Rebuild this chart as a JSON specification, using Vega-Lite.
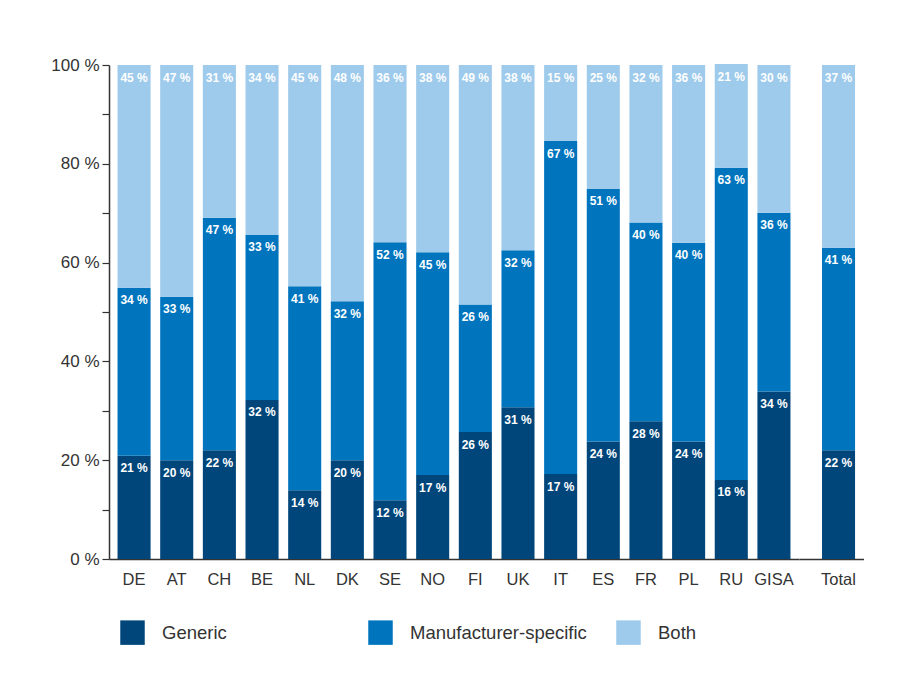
{
  "$schema": "https://vega.github.io/schema/vega-lite/v6.json",
  "padding": {"left": 50, "top": 56, "right": 0, "bottom": 0},
  "autosize": {"type": "pad"},
  "background": "white",
  "datasets": {
    "shares": [
      {"country": "DE", "type": "Generic", "value": 20.9},
      {"country": "DE", "type": "Manufacturer-specific", "value": 34.0},
      {"country": "DE", "type": "Both", "value": 45.1},
      {"country": "AT", "type": "Generic", "value": 20.0},
      {"country": "AT", "type": "Manufacturer-specific", "value": 33.1},
      {"country": "AT", "type": "Both", "value": 46.9},
      {"country": "CH", "type": "Generic", "value": 22.0},
      {"country": "CH", "type": "Manufacturer-specific", "value": 47.1},
      {"country": "CH", "type": "Both", "value": 30.9},
      {"country": "BE", "type": "Generic", "value": 32.2},
      {"country": "BE", "type": "Manufacturer-specific", "value": 33.4},
      {"country": "BE", "type": "Both", "value": 34.4},
      {"country": "NL", "type": "Generic", "value": 13.9},
      {"country": "NL", "type": "Manufacturer-specific", "value": 41.3},
      {"country": "NL", "type": "Both", "value": 44.8},
      {"country": "DK", "type": "Generic", "value": 20.0},
      {"country": "DK", "type": "Manufacturer-specific", "value": 32.2},
      {"country": "DK", "type": "Both", "value": 47.8},
      {"country": "SE", "type": "Generic", "value": 11.9},
      {"country": "SE", "type": "Manufacturer-specific", "value": 52.2},
      {"country": "SE", "type": "Both", "value": 35.9},
      {"country": "NO", "type": "Generic", "value": 17.0},
      {"country": "NO", "type": "Manufacturer-specific", "value": 45.1},
      {"country": "NO", "type": "Both", "value": 37.9},
      {"country": "FI", "type": "Generic", "value": 25.7},
      {"country": "FI", "type": "Manufacturer-specific", "value": 25.8},
      {"country": "FI", "type": "Both", "value": 48.5},
      {"country": "UK", "type": "Generic", "value": 30.7},
      {"country": "UK", "type": "Manufacturer-specific", "value": 31.8},
      {"country": "UK", "type": "Both", "value": 37.5},
      {"country": "IT", "type": "Generic", "value": 17.2},
      {"country": "IT", "type": "Manufacturer-specific", "value": 67.4},
      {"country": "IT", "type": "Both", "value": 15.4},
      {"country": "ES", "type": "Generic", "value": 23.8},
      {"country": "ES", "type": "Manufacturer-specific", "value": 51.1},
      {"country": "ES", "type": "Both", "value": 25.1},
      {"country": "FR", "type": "Generic", "value": 27.9},
      {"country": "FR", "type": "Manufacturer-specific", "value": 40.2},
      {"country": "FR", "type": "Both", "value": 31.9},
      {"country": "PL", "type": "Generic", "value": 23.8},
      {"country": "PL", "type": "Manufacturer-specific", "value": 40.2},
      {"country": "PL", "type": "Both", "value": 36.0},
      {"country": "RU", "type": "Generic", "value": 16.0},
      {"country": "RU", "type": "Manufacturer-specific", "value": 63.2},
      {"country": "RU", "type": "Both", "value": 21.0},
      {"country": "GISA", "type": "Generic", "value": 33.9},
      {"country": "GISA", "type": "Manufacturer-specific", "value": 36.2},
      {"country": "GISA", "type": "Both", "value": 29.9},
      {"country": "Total", "type": "Generic", "value": 22.0},
      {"country": "Total", "type": "Manufacturer-specific", "value": 41.0},
      {"country": "Total", "type": "Both", "value": 37.0}
    ]
  },
  "spacing": 0,
  "hconcat": [
    {
      "width": 690,
      "height": 494,
      "data": {"name": "shares"},
      "transform": [
        {"filter": "datum.country !== 'Total'"},
        {"calculate": "indexof(['Generic','Manufacturer-specific','Both'], datum.type)", "as": "ord"},
        {"calculate": "format(datum.value, '.0f') + ' %'", "as": "label"},
        {"stack": "value", "groupby": ["country"], "sort": [{"field": "ord", "order": "ascending"}], "as": ["v0", "v1"]}
      ],
      "encoding": {
        "x": {
          "field": "country", "type": "nominal", "sort": null,
          "scale": {"paddingInner": 0.225, "paddingOuter": 0.2},
          "axis": {"title": null, "ticks": false, "labelAngle": 0, "labelPadding": 12, "labelFontSize": 16.5, "labelColor": "#333333", "domainColor": "#333333", "domainWidth": 1.5}
        }
      },
      "layer": [
        {
          "mark": {"type": "bar"},
          "encoding": {
            "y": {
              "field": "v0", "type": "quantitative",
              "scale": {"domain": [0, 100], "nice": false},
              "axis": {"title": null, "grid": false, "values": [0, 10, 20, 30, 40, 50, 60, 70, 80, 90, 100],
                       "labelExpr": "datum.value % 20 === 0 ? datum.value + ' %' : ''",
                       "tickSize": 7, "labelPadding": 3, "labelFontSize": 17, "labelColor": "#333333",
                       "domainColor": "#333333", "domainWidth": 1.5, "tickColor": "#333333", "tickWidth": 1.2}
            },
            "y2": {"field": "v1"},
            "color": {
              "field": "type", "type": "nominal",
              "scale": {"domain": ["Generic", "Manufacturer-specific", "Both"], "range": ["#00467a", "#0075be", "#9ecaeb"]},
              "legend": {"title": null, "orient": "none", "legendX": 11, "legendY": 555, "direction": "horizontal", "columns": 3,
                         "gridAlign": "all", "columnPadding": 29, "symbolType": "square", "symbolSize": 600, "symbolStrokeWidth": 0,
                         "labelOffset": 17, "labelFontSize": 18.5, "labelColor": "#333333", "padding": 0, "labelLimit": 400}
            }
          }
        },
        {
          "mark": {"type": "text", "baseline": "middle", "align": "center", "dy": 12.5, "fontSize": 12, "fontWeight": "bold", "color": "white"},
          "encoding": {
            "y": {"field": "v1", "type": "quantitative"},
            "text": {"field": "label"}
          }
        }
      ]
    },
    {
      "width": 65,
      "height": 494,
      "data": {"name": "shares"},
      "transform": [
        {"filter": "datum.country === 'Total'"},
        {"calculate": "indexof(['Generic','Manufacturer-specific','Both'], datum.type)", "as": "ord"},
        {"calculate": "format(datum.value, '.0f') + ' %'", "as": "label"},
        {"stack": "value", "groupby": ["country"], "sort": [{"field": "ord", "order": "ascending"}], "as": ["v0", "v1"]}
      ],
      "encoding": {
        "x": {
          "field": "country", "type": "nominal", "sort": null,
          "scale": {"paddingInner": 0.225, "paddingOuter": 0.375, "align": 0.72},
          "axis": {"title": null, "ticks": false, "labelAngle": 0, "labelPadding": 12, "labelFontSize": 16.5, "labelColor": "#333333", "domainColor": "#333333", "domainWidth": 1.5}
        }
      },
      "layer": [
        {
          "mark": {"type": "bar"},
          "encoding": {
            "y": {"field": "v0", "type": "quantitative", "scale": {"domain": [0, 100], "nice": false}, "axis": null},
            "y2": {"field": "v1"},
            "color": {
              "field": "type", "type": "nominal",
              "scale": {"domain": ["Generic", "Manufacturer-specific", "Both"], "range": ["#00467a", "#0075be", "#9ecaeb"]},
              "legend": null
            }
          }
        },
        {
          "mark": {"type": "text", "baseline": "middle", "align": "center", "dy": 12.5, "fontSize": 12, "fontWeight": "bold", "color": "white"},
          "encoding": {
            "y": {"field": "v1", "type": "quantitative"},
            "text": {"field": "label"}
          }
        }
      ]
    }
  ],
  "resolve": {"scale": {"x": "independent", "y": "shared", "color": "shared"}},
  "config": {
    "font": "Liberation Sans",
    "view": {"stroke": null},
    "axis": {"labelFont": "Liberation Sans"},
    "legend": {"labelFont": "Liberation Sans"}
  }
}
